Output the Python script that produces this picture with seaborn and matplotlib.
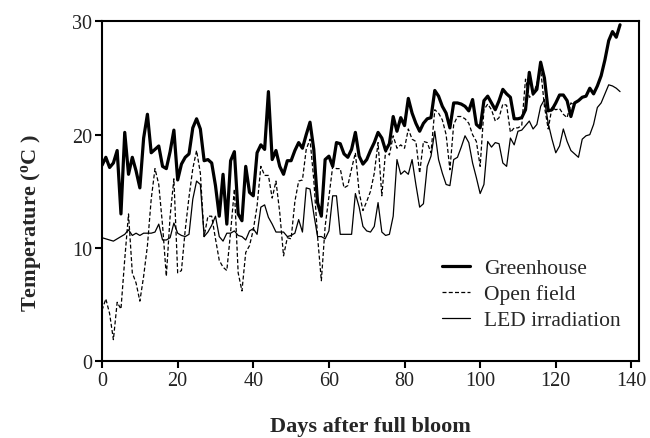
import numpy as np
import pandas as pd
import matplotlib
matplotlib.use("Agg")
import matplotlib.pyplot as plt
import seaborn as sns

# --- Data (daily mean temperature) ---
GREENHOUSE = [
    17.3, 18.0, 17.1, 17.5, 18.6, 13.0, 20.2, 16.5, 18.0, 16.8,
    15.3, 19.7, 21.8, 18.4, 18.7, 19.0, 17.2, 17.0, 18.5, 20.4,
    16.0, 17.4, 18.0, 18.3, 20.6, 21.4, 20.5, 17.7, 17.8, 17.5,
    15.5, 12.8, 16.5, 12.1, 17.7, 18.5, 13.0, 12.4, 17.2, 14.9,
    14.6, 18.4, 19.1, 18.7, 23.8, 17.8, 18.6, 17.2, 16.5, 17.7,
    17.7, 18.6, 19.3, 18.8, 20.0, 21.1, 18.7, 14.0, 12.8, 17.8,
    18.1, 17.2, 19.3, 19.2, 18.3, 18.0, 18.7, 20.2, 18.1, 17.4,
    17.8, 18.6, 19.3, 20.2, 19.7, 18.6, 19.2, 21.6, 20.3, 21.5,
    20.8, 23.2, 21.9, 21.0, 20.3, 21.0, 21.4, 21.5, 23.9, 23.4,
    22.5, 21.9, 20.6, 22.8, 22.8, 22.7, 22.5, 22.1, 23.1, 20.9,
    20.6, 23.0, 23.4, 22.8, 22.2, 23.0, 24.0, 23.6, 23.3, 21.4,
    21.4, 21.5, 22.2, 25.5, 23.6, 24.0, 26.4, 25.0, 22.1, 22.2,
    22.8, 23.5, 23.5, 23.0, 21.6, 22.8, 23.0, 23.3, 23.4, 24.1,
    23.6, 24.3, 25.2, 26.6, 28.3, 29.1, 28.6, 29.7,
]

OPEN_FIELD = [
    4.5, 5.5, 4.2, 1.9, 5.2, 4.6, 9.0, 13.0, 7.8, 6.9,
    5.3, 7.5, 10.2, 14.3, 17.0, 15.6, 12.0, 7.5, 12.8, 16.1,
    7.8, 8.0, 11.6, 14.5, 17.0, 18.6, 16.6, 11.0, 12.8, 12.8,
    10.8, 8.9, 8.3, 8.0, 11.4, 15.2, 7.8, 6.2, 9.6, 10.2,
    11.6, 13.7, 17.2, 16.4, 16.4, 14.4, 15.9, 13.1, 9.3, 10.9,
    10.8, 14.1, 15.9, 16.0, 18.7, 19.6, 16.0, 11.0, 7.1, 11.9,
    14.5, 17.2, 17.0, 17.0, 15.3, 15.5, 17.0, 18.4, 14.9, 13.3,
    14.1, 15.0, 16.6, 19.3, 14.6, 18.6, 18.2, 19.9, 18.8, 19.1,
    18.8, 20.5, 19.6, 19.4, 16.6, 19.4, 19.3, 18.4, 22.2, 21.9,
    21.3, 20.0, 16.9, 20.9, 21.6, 21.6, 21.4, 21.0, 20.0, 19.4,
    17.2, 22.2, 22.7, 22.2, 21.2, 21.5, 22.7, 22.6, 20.2, 20.6,
    20.6, 20.8, 24.9, 23.3, 23.5, 24.5, 25.8, 22.5, 20.5, 22.4,
    22.2, 22.3, 21.8, 21.5, 22.8, 22.6,
]

LED = [
    10.9, 10.8, 10.7, 10.6, 10.8, 11.0, 11.2, 11.6, 11.1, 11.3,
    11.1, 11.3, 11.3, 11.3, 11.4, 12.1, 10.7, 10.7, 10.9, 12.2,
    11.3, 11.1, 11.0, 11.2, 14.3, 15.9, 15.6, 11.0, 11.4, 12.0,
    12.8, 11.0, 10.6, 11.3, 11.3, 11.5, 11.1, 11.0, 10.7, 11.5,
    11.7, 11.2, 13.6, 13.8, 12.7, 12.1, 11.4, 11.4, 11.4, 11.0,
    11.1, 11.3, 12.5, 11.4, 15.3, 15.2, 13.0, 11.0, 11.0, 10.8,
    11.5, 14.6, 14.6, 11.2, 11.2, 11.2, 11.2, 14.8, 13.6, 11.9,
    11.5, 11.4, 11.9, 14.0, 11.4, 11.1, 11.2, 12.8, 17.8, 16.5,
    16.8, 16.5, 17.8, 15.6, 13.6, 13.9, 17.2, 18.1, 20.3, 17.8,
    16.6, 15.6, 15.5, 17.8, 18.0, 18.9, 19.9, 19.3, 17.5, 16.2,
    14.8, 15.6, 19.4, 18.9, 19.3, 19.2, 17.5, 17.2, 19.7, 19.1,
    20.3, 20.4, 20.8, 21.2, 20.5, 20.9, 22.5, 23.1, 21.0, 19.6,
    18.4, 19.0, 20.5, 19.4, 18.6, 18.3, 18.0, 19.6, 19.9, 20.0,
    20.9, 22.4, 22.8, 23.6, 24.4, 24.3, 24.1, 23.8,
]

SERIES = [
    ("Greenhouse", GREENHOUSE, "-", 2.3),
    ("Open field", OPEN_FIELD, (0, (3.2, 1.8)), 0.9),
    ("LED irradiation", LED, "-", 0.9),
]


def main() -> None:
    sns.set_style("ticks")
    plt.rcParams["font.family"] = ["Liberation Serif", "DejaVu Serif"]
    plt.rcParams["mathtext.default"] = "regular"

    fig = plt.figure(figsize=(6.5, 4.39), dpi=100)
    ax = fig.add_axes([0.157, 0.175, 0.826, 0.774])

    for name, values, ls, lw in SERIES:
        days = np.arange(len(values))
        sns.lineplot(x=days, y=values, ax=ax, color="black", linestyle=ls,
                     linewidth=lw, label=name)

    ax.set_xlim(0, 142)
    ax.set_ylim(0, 30)
    ax.set_xticks(np.arange(0, 141, 20))
    ax.set_yticks([0, 10, 20, 30])
    for side in ["left", "bottom", "right", "top"]:
        ax.spines[side].set_visible(True)
        ax.spines[side].set_linewidth(1.5)
        ax.spines[side].set_color("black")
    ax.tick_params(axis="both", direction="out", length=5, width=1.5,
                   labelsize=14.5, color="black", labelcolor="#222222", pad=2)

    ax.set_xlabel("Days after full bloom", fontsize=16, fontweight="bold")
    ax.set_ylabel("Temperature ($^{o}$C )", fontsize=16, fontweight="bold")
    ax.xaxis.set_label_coords(0.5, -0.16)
    ax.yaxis.set_label_coords(-0.11, 0.41)

    leg = ax.legend(loc="center left", bbox_to_anchor=(0.598, 0.197),
                    frameon=False, fontsize=15.5, handlelength=1.3,
                    handletextpad=0.65, labelspacing=0.28)
    for line in leg.get_lines():
        line.set_color("black")

    fig.savefig("out.png", dpi=100)
    plt.close(fig)


if __name__ == "__main__":
    main()
